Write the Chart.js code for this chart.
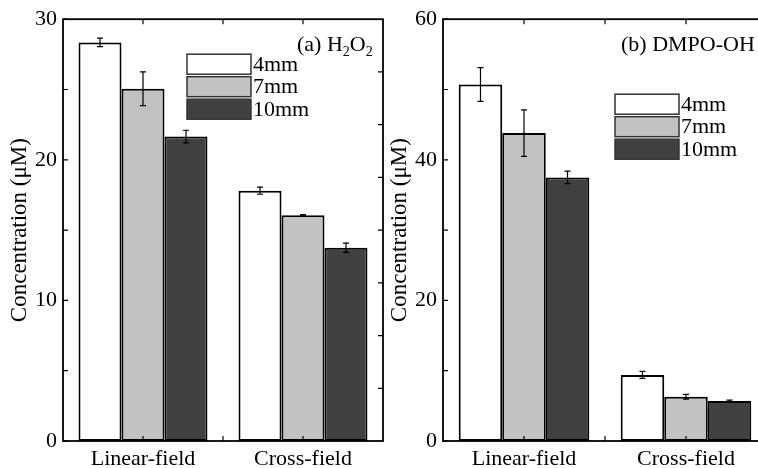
<!DOCTYPE html>
<html>
<head>
<meta charset="utf-8">
<script src="https://cdn.jsdelivr.net/npm/chart.js@4.4.0/dist/chart.umd.min.js"></script>
<style>
html, body { margin: 0; padding: 0; background: #fff; overflow: hidden; width: 758px; height: 468px; }
canvas { position: absolute; top: 0; }
</style>
</head>
<body>
<canvas id="chartA" width="386" height="468" style="left:0"></canvas>
<canvas id="chartB" width="390" height="468" style="left:380px"></canvas>
<script>
const categories = ["Linear-field", "Cross-field"];
const seriesNames = ["4mm", "7mm", "10mm"];
const seriesColors = ["#ffffff", "#c2c2c2", "#404040"];

// (a) H2O2
const h2o2_4mm = [28.35, 17.8];
const h2o2_7mm = [25.05, 16.05];
const h2o2_10mm = [21.65, 13.75];
const h2o2Err_4mm = [0.3, 0.25];
const h2o2Err_7mm = [1.2, 0.05];
const h2o2Err_10mm = [0.45, 0.33];
const yTicksA = [0, 10, 20, 30];

// (b) DMPO-OH
const dmpo_4mm = [50.7, 9.4];
const dmpo_7mm = [43.8, 6.3];
const dmpo_10mm = [37.5, 5.7];
const dmpoErr_4mm = [2.4, 0.5];
const dmpoErr_7mm = [3.3, 0.33];
const dmpoErr_10mm = [0.9, 0.12];
const yTicksB = [0, 20, 40, 60];

const serif = "'Liberation Serif', 'Times New Roman', serif";

// error bars, drawn from the bar elements and the y scale
const errorBars = {
  id: 'errorBars',
  afterDatasetsDraw(chart) {
    const ctx = chart.ctx, y = chart.scales.y;
    ctx.save();
    ctx.strokeStyle = '#000';
    ctx.lineWidth = 1.2;
    chart.data.datasets.forEach((ds, i) => {
      chart.getDatasetMeta(i).data.forEach((bar, j) => {
        const v = ds.data[j], e = ds.errors[j];
        const y1 = y.getPixelForValue(v + e), y2 = y.getPixelForValue(v - e);
        ctx.beginPath();
        ctx.moveTo(bar.x, y1); ctx.lineTo(bar.x, y2);
        ctx.moveTo(bar.x - 3, y1); ctx.lineTo(bar.x + 3, y1);
        ctx.moveTo(bar.x - 3, y2); ctx.lineTo(bar.x + 3, y2);
        ctx.stroke();
      });
    });
    ctx.restore();
  }
};

// box frame with inward ticks, legend and panel title
const frame = {
  id: 'frame',
  afterDatasetsDraw(chart, args, opts) {
    const {ctx, chartArea: a, scales: {x, y}} = chart;
    const L = 5;
    ctx.save();
    ctx.strokeStyle = '#000';
    ctx.lineWidth = 1.8;
    ctx.strokeRect(a.left, a.top, a.right - a.left, a.bottom - a.top);
    ctx.lineWidth = 1.2;
    ctx.beginPath();
    const ticks = y.ticks.map(t => t.value);
    const step = ticks[1] - ticks[0];
    ticks.forEach(v => {
      [v, v + step / 2].forEach(w => {
        if (w > y.max) return;
        const py = y.getPixelForValue(w);
        ctx.moveTo(a.left, py); ctx.lineTo(a.left + L, py);
      });
    });
    for (let k = 1; k < 8; k++) {
      const py = y.getPixelForValue(y.max * k / 8);
      ctx.moveTo(a.right, py); ctx.lineTo(a.right - L, py);
    }
    [0, 0.5, 1].forEach(c => {
      const px = x.getPixelForValue(c);
      ctx.moveTo(px, a.top); ctx.lineTo(px, a.top + L);
      ctx.moveTo(px, a.bottom); ctx.lineTo(px, a.bottom - L);
    });
    ctx.stroke();
    ctx.restore();
  },
  afterDraw(chart, args, opts) {
    const {ctx, chartArea: a} = chart;
    ctx.save();
    chart.data.datasets.forEach((ds, i) => {
      const bx = a.left + opts.legendX, by = a.top + opts.legendY + i * 22.5;
      ctx.fillStyle = ds.backgroundColor;
      ctx.fillRect(bx, by, 64, 20);
      ctx.strokeStyle = '#333';
      ctx.lineWidth = 1.5;
      ctx.strokeRect(bx, by, 64, 20);
      ctx.fillStyle = '#000';
      ctx.font = '22px ' + serif;
      ctx.textBaseline = 'middle';
      ctx.fillText(ds.label, bx + 66, by + 11);
    });
    let tx = a.left + opts.titleX;
    const ty = a.top + 32;
    ctx.textBaseline = 'alphabetic';
    opts.title.forEach(([txt, sub]) => {
      ctx.font = (sub ? '14px ' : '22px ') + serif;
      ctx.fillText(txt, tx, ty + (sub ? 5 : 0));
      tx += ctx.measureText(txt).width;
    });
    ctx.restore();
  }
};

function makeChart(id, values, errors, yMax, yTicks, frameOpts) {
  return new Chart(document.getElementById(id), {
    type: 'bar',
    data: {
      labels: categories,
      datasets: seriesNames.map((name, i) => ({
        label: name,
        data: values[i],
        errors: errors[i],
        backgroundColor: seriesColors[i],
        borderColor: '#000',
        borderWidth: 2,
        borderSkipped: false,
        categoryPercentage: 0.806,
        barPercentage: 1.0
      }))
    },
    options: {
      responsive: false,
      animation: false,
      layout: { padding: { left: 0, top: 18, right: 3, bottom: 0 } },
      plugins: {
        legend: { display: false },
        tooltip: { enabled: false },
        frame: frameOpts
      },
      scales: {
        x: {
          grid: { display: false, drawTicks: false },
          border: { display: false },
          ticks: { color: '#000', padding: 5, font: { family: serif, size: 22 } },
          afterFit: s => { s.height = 27; }
        },
        y: {
          min: 0,
          max: yMax,
          grid: { display: false, drawTicks: false },
          border: { display: false },
          afterBuildTicks: s => { s.ticks = yTicks.map(v => ({ value: v })); },
          ticks: { color: '#000', padding: 6, font: { family: serif, size: 22 } },
          title: {
            display: true,
            text: 'Concentration (μM)',
            color: '#000',
            padding: { top: 6, bottom: 0 },
            font: { family: serif, size: 23 }
          },
          afterFit: s => { s.width = 63; }
        }
      }
    },
    plugins: [errorBars, frame]
  });
}

makeChart('chartA',
  [h2o2_4mm, h2o2_7mm, h2o2_10mm],
  [h2o2Err_4mm, h2o2Err_7mm, h2o2Err_10mm],
  30, yTicksA,
  { legendX: 124, legendY: 35, titleX: 234, title: [['(a) H', false], ['2', true], ['O', false], ['2', true]] });

makeChart('chartB',
  [dmpo_4mm, dmpo_7mm, dmpo_10mm],
  [dmpoErr_4mm, dmpoErr_7mm, dmpoErr_10mm],
  60, yTicksB,
  { legendX: 172, legendY: 75, titleX: 178, title: [['(b) DMPO-OH', false]] });
</script>
</body>
</html>
